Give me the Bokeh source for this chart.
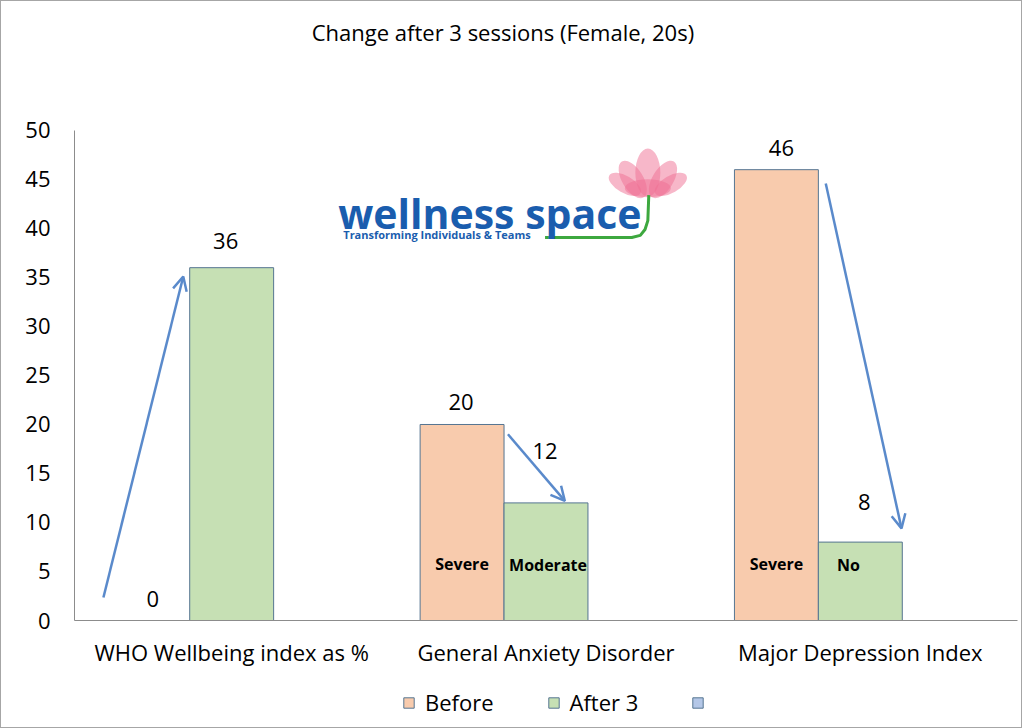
import numpy as np
from bokeh.plotting import figure
from bokeh.layouts import column
from bokeh.models import (FactorRange, Range1d, FixedTicker, Legend, LegendItem,
                          Arrow, OpenHead, Label, ColumnDataSource)
from bokeh.transform import dodge
from bokeh.core.properties import value
from bokeh.embed import file_html
from bokeh.resources import INLINE

# ---------------- data ----------------
categories = ["WHO Wellbeing index as %", "General Anxiety Disorder", "Major Depression Index"]
before = [0, 20, 46]
after3 = [36, 12, 8]
third = [0, 0, 0]
before_level = ["", "Severe", "Severe"]
after_level = ["", "Moderate", "No"]
y_ticks = [0, 5, 10, 15, 20, 25, 30, 35, 40, 45, 50]
series_names = ["Before", "After 3", " "]
title_text = "Change after 3 sessions (Female, 20s)"

# ---------------- style ----------------
FONT = "Open Sans"
C_BEFORE = "#F8CBAD"
C_AFTER = "#C6E0B4"
C_THIRD = "#B4C7E7"
C_EDGE = "#557591"
C_AXIS = "#8C8C8C"
C_ARROW = "#5A8ACB"
BW = 0.267
Y_MAX = 50
Y_TOP = 63.16   # extra headroom inside the frame for title and logo

src = ColumnDataSource(dict(cat=categories, before=before, after3=after3, third=third,
                            before_level=before_level, after_level=after_level,
                            before_lbl=[str(v) for v in before],
                            after_lbl=[str(v) for v in after3],
                            before_dy=[-22, -22, -22], after_dy=[-27, -52, -40],
                            before_dx=[5, -1, 5], after_dx=[-6, -1, 4],
                            after_lvl_dx=[0, 2, -12]))

p = figure(x_range=FactorRange(factors=categories, range_padding=0),
           y_range=Range1d(0, Y_TOP), width=1020, height=680,
           output_backend="svg", toolbar_location=None,
           min_border_left=73, min_border_right=4, min_border_top=0, min_border_bottom=61)
p.outline_line_color = None
p.grid.visible = False
p.background_fill_color = "white"
p.border_fill_color = "white"

r_before = p.vbar(x=dodge("cat", -BW, range=p.x_range), top="before", width=BW, source=src,
                  fill_color=C_BEFORE, line_color=C_EDGE, line_width=1)
r_after = p.vbar(x=dodge("cat", 0, range=p.x_range), top="after3", width=BW, source=src,
                 fill_color=C_AFTER, line_color=C_EDGE, line_width=1)
p.vbar(x=dodge("cat", BW, range=p.x_range), top="third", width=BW, source=src,
       fill_color=C_THIRD, line_color="#4F81BD", line_width=1, line_alpha=0)

# value labels
p.text(x=dodge("cat", -BW, range=p.x_range), y="before", text="before_lbl", source=src,
       x_offset="before_dx", y_offset="before_dy", text_align="center", text_baseline="middle",
       text_font=value(FONT), text_font_size="22px", text_color="black")
p.text(x=dodge("cat", 0, range=p.x_range), y="after3", text="after_lbl", source=src,
       x_offset="after_dx", y_offset="after_dy", text_align="center", text_baseline="middle",
       text_font=value(FONT), text_font_size="22px", text_color="black")
# level labels inside bars
p.text(x=dodge("cat", -BW, range=p.x_range), y=5.8, text="before_level", source=src,
       text_align="center", text_baseline="middle", text_font=value(FONT),
       text_font_style="bold", text_font_size="16px", text_color="black")
p.text(x=dodge("cat", 0, range=p.x_range), y=5.7, text="after_level", source=src,
       x_offset="after_lvl_dx", text_align="center", text_baseline="middle", text_font=value(FONT),
       text_font_style="bold", text_font_size="16px", text_color="black")

# arrows (before -> after)
arrows = [((0.092, 2.35), (0.346, 35.1)),
          ((1.379, 19.0), (1.560, 12.2)),
          ((2.390, 44.6), (2.631, 9.4))]
for (x0, y0), (x1, y1) in arrows:
    p.add_layout(Arrow(end=OpenHead(size=14, line_color=C_ARROW, line_width=2.5),
                       x_start=x0, y_start=y0, x_end=x1, y_end=y1,
                       line_color=C_ARROW, line_width=2.5))

# logo
lotus = dict(x=[1.751, 1.897, 1.776, 1.872, 1.824, 1.824],
             y=[44.5, 44.5, 45.0, 45.0, 45.7, 44.1],
             w=[17, 17, 21, 21, 25, 46], h=[36, 36, 42, 42, 48, 18],
             a=[1.05, -1.05, 0.55, -0.55, 0.0, 0.0])
p.ellipse(x=lotus["x"], y=lotus["y"], width=lotus["w"], height=lotus["h"], angle=lotus["a"],
          width_units="screen", height_units="screen", fill_color="#EF6F94", fill_alpha=0.5,
          line_color=None)
p.line(x=[1.497, 1.773, 1.800, 1.815, 1.824, 1.827], y=[39.08, 39.08, 39.3, 39.9, 40.8, 43.4],
       line_color="#3DA83F", line_width=3)
p.add_layout(Label(x=0.839, y=41.6, text="wellness space", text_font=FONT,
                   text_font_style="bold", text_font_size="41px", text_color="#1A5DAE",
                   text_baseline="middle"))
p.add_layout(Label(x=0.855, y=39.4, text="Transforming Individuals & Teams", text_font=FONT,
                   text_font_style="bold", text_font_size="11px", text_color="#1A5DAE",
                   text_baseline="middle"))

# title (inside the frame's headroom)
p.add_layout(Label(x=1.363, y=60.0, text=title_text, text_font=FONT, text_font_size="22px",
                   text_align="center", text_baseline="middle", text_color="black"))

# axes
p.yaxis.ticker = FixedTicker(ticks=y_ticks)
p.yaxis.bounds = (0, Y_MAX)
for ax in (p.xaxis[0], p.yaxis[0]):
    ax.axis_line_color = C_AXIS
    ax.major_tick_line_color = None
    ax.minor_tick_line_color = None
    ax.major_label_text_font = FONT
    ax.major_label_text_font_size = "22px"
    ax.major_label_text_color = "black"
p.yaxis.major_label_standoff = 18
p.xaxis.major_label_standoff = 10

# legend strip (legend swatches only; the dummy renderers draw nothing)
pl = figure(width=1020, height=46, x_range=(0, 1), y_range=(0, 1),
            output_backend="svg", toolbar_location=None, x_axis_type=None, y_axis_type=None,
            min_border_left=0, min_border_right=0, min_border_top=0, min_border_bottom=0)
pl.outline_line_color = None
pl.grid.visible = False
nan = np.array([np.nan])
lg = [pl.vbar(x=nan, top=nan, width=0.1, fill_color=c, line_color=lc)
      for c, lc in [(C_BEFORE, C_EDGE), (C_AFTER, C_EDGE), (C_THIRD, C_EDGE)]]
legend = Legend(items=[LegendItem(label=n, renderers=[r]) for n, r in zip(series_names, lg)],
                orientation="horizontal", location=(328, 10),
                glyph_width=13, glyph_height=13, label_standoff=10, spacing=53,
                padding=0, margin=0, border_line_color=None, background_fill_alpha=0,
                label_text_font=FONT, label_text_font_size="22px", label_text_color="black")
pl.add_layout(legend, "center")

lay = column(p, pl, spacing=0)
lay.styles = {"border": "1px solid #A6A6A6"}

open("out.html", "w").write(file_html(lay, INLINE))
